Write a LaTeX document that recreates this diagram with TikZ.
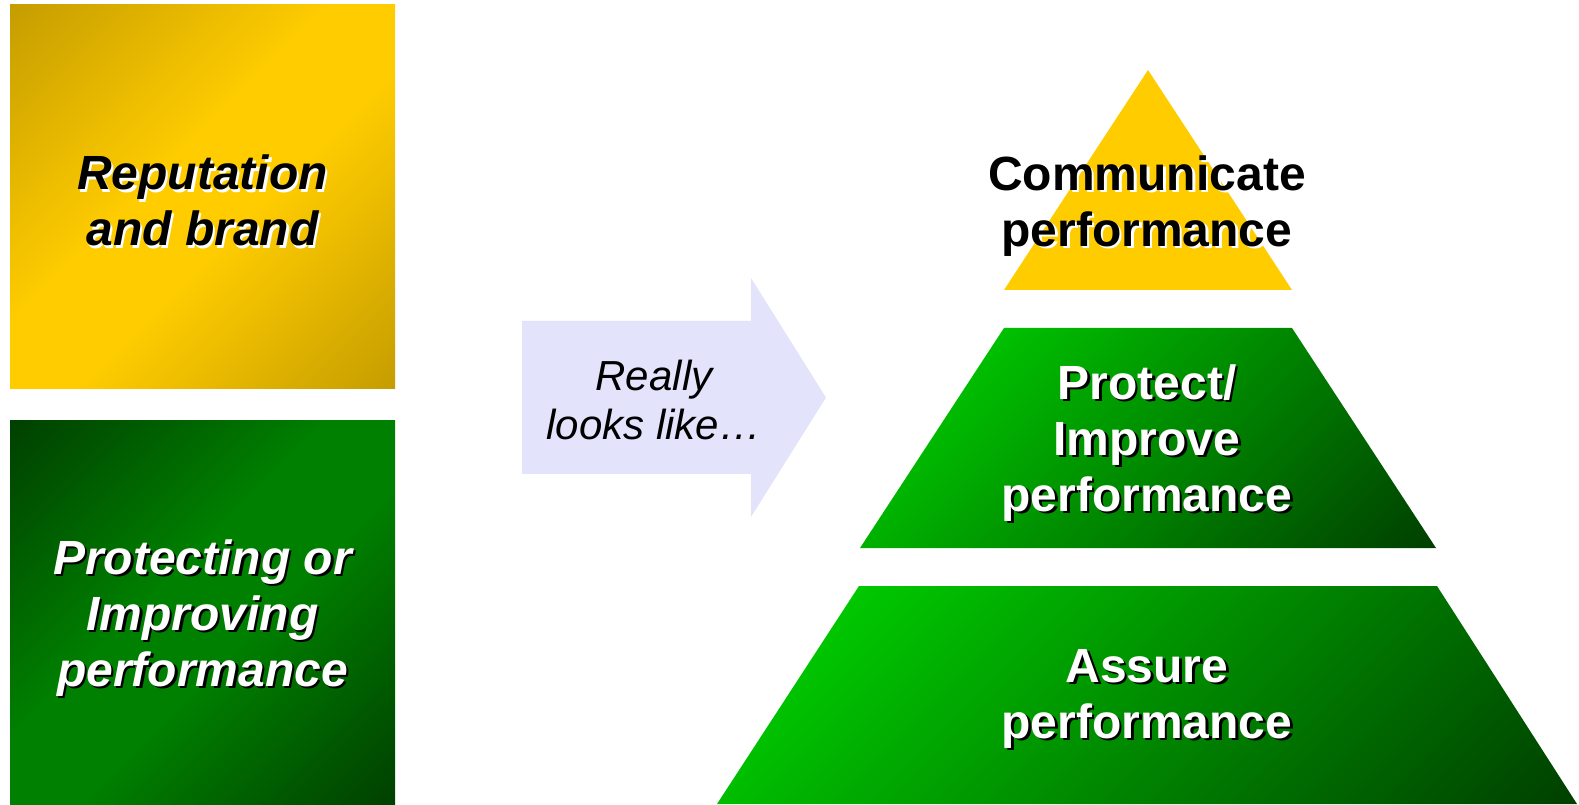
\documentclass[tikz,border=0pt]{standalone}
\usepackage{fontspec}
\setmainfont{Liberation Sans}
\usepackage{tikz}
\usetikzlibrary{positioning, calc}
\definecolor{goldmain}{HTML}{FFCC00}
\definecolor{golddark}{HTML}{C49C00}
\definecolor{greenmain}{HTML}{008000}
\definecolor{greendark}{HTML}{003F00}
\definecolor{greenlight}{HTML}{00CC00}
\definecolor{greendeep}{HTML}{004000}
\definecolor{arrowfill}{HTML}{E3E3FC}
\pgfdeclarehorizontalshading{goldsweep}{100bp}{color(0bp)=(golddark); color(14bp)=(golddark); color(44bp)=(goldmain); color(56bp)=(goldmain); color(86bp)=(golddark); color(100bp)=(golddark)}
\pgfdeclarehorizontalshading{greensweep}{100bp}{color(0bp)=(greendark); color(14bp)=(greendark); color(44bp)=(greenmain); color(56bp)=(greenmain); color(86bp)=(greendark); color(100bp)=(greendark)}
\pgfdeclarehorizontalshading{greenfall}{100bp}{color(0bp)=(greenlight); color(22bp)=(greenlight); color(85bp)=(greendeep); color(100bp)=(greendeep)}
\newcommand{\shadowed}[2]{\rlap{\hspace{1.2pt}\raisebox{-1.2pt}{\color{#1}#2}}#2}
\tikzstyle{boxfont}=[font=\fontsize{24}{28}\selectfont\bfseries\itshape]
\tikzstyle{pyrfont}=[font=\fontsize{24}{28}\selectfont\bfseries]
\tikzstyle{goldfill}=[shading=goldsweep, shading angle=-45]
\tikzstyle{greenfill}=[shading=greensweep, shading angle=-45]
\tikzstyle{layerfill}=[shading=greenfall, shading angle=-45]
\tikzstyle{boxtext}=[align=center, inner sep=0pt, boxfont]
\tikzstyle{pyrtext}=[align=center, inner sep=0pt, pyrfont]
\tikzstyle{arrowtext}=[align=center, inner sep=0pt,
font=\fontsize{21}{24.5}\selectfont\itshape]

\begin{document}
\begin{tikzpicture}[x=0.5pt, y=0.5pt]
    \useasboundingbox (0,0) rectangle (1579,804);
    
    \shade[goldfill] (10,415) rectangle (395,799);
    \node[boxtext, text=black] (rep) at (202.5,602)
    {\shadowed{white}{Reputation}\\\shadowed{white}{and brand}};
    \shade[greenfill] (10,0) rectangle (395,383);
    \node[boxtext, text=white] (improving) at (202.5,185)
    {\shadowed{black}{Protecting or}\\\shadowed{black}{Improving}\\\shadowed{black}{performance}};
    
    \fill[arrowfill] (522,330) -- (751,330) -- (751,287) -- (826,406.5)
    -- (751,526) -- (751,483) -- (522,483) -- cycle;
    \node[arrowtext] (looks) at (654,404) {Really\\looks like…};
    
    \fill[goldmain] (1148,734) -- (1292,514) -- (1004,514) -- cycle;
    \shade[layerfill] (1004,476) -- (1292,476) -- (1436,256) -- (860,256) -- cycle;
    \shade[layerfill] (859,218) -- (1437,218) -- (1577,0) -- (717,0) -- cycle;
    
    \node[pyrtext, text=black] (communicate) at (1147,597)
    {\shadowed{white}{Communicate}\\\shadowed{white}{performance}};
    \node[pyrtext, text=white] (protect) at (1147,360)
    {\shadowed{black}{Protect/}\\\shadowed{black}{Improve}\\\shadowed{black}{performance}};
    \node[pyrtext, text=white] (assure) at (1147,104)
    {\shadowed{black}{Assure}\\\shadowed{black}{performance}};
\end{tikzpicture}
\end{document}
